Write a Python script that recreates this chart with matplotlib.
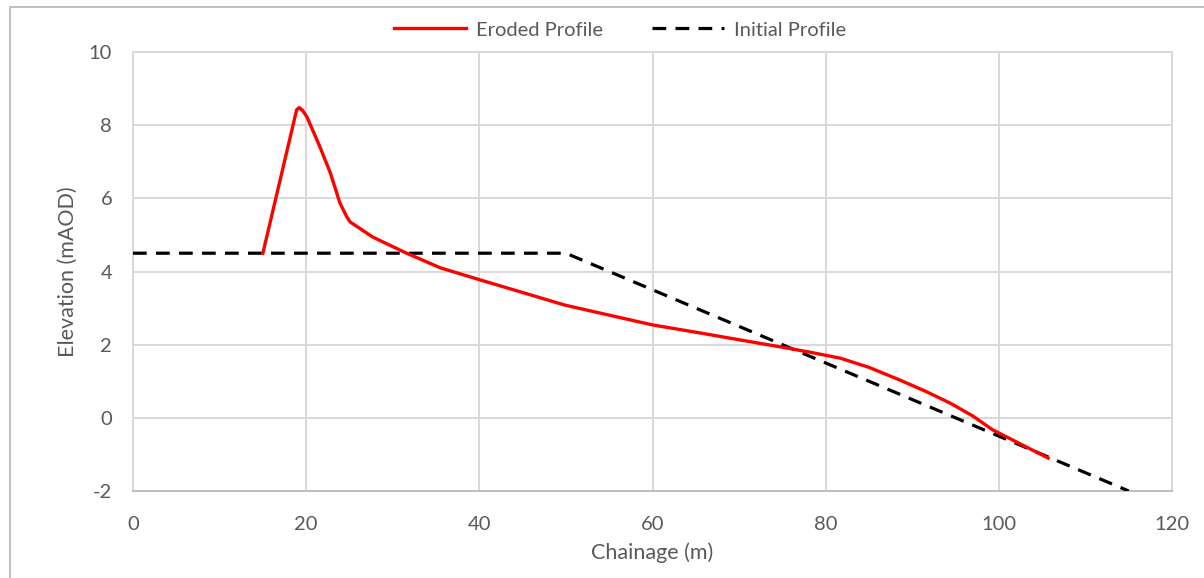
import matplotlib.pyplot as plt
from matplotlib.lines import Line2D

# eroded profile
eroded_x = [15, 18.9, 19.2, 19.6, 20.1, 21.6, 22.8, 23.9, 24.7, 25.1, 27.7, 31.6, 35.5, 40.1,
            49.9, 60, 65.5, 70.1, 75.5, 78.5, 81.7, 85, 88.6, 91.5, 94.4, 97, 99.3, 105.7]
eroded_y = [4.5, 8.42, 8.48, 8.4, 8.22, 7.4, 6.69, 5.87, 5.49, 5.35, 4.94, 4.5, 4.1, 3.77,
            3.08, 2.54, 2.32, 2.13, 1.91, 1.78, 1.63, 1.38, 1.03, 0.73, 0.40, 0.05, -0.33, -1.10]

# initial profile
initial_x = [0, 50, 115]
initial_y = [4.5, 4.5, -2]

x_ticks = [0, 20, 40, 60, 80, 100, 120]
y_ticks = [-2, 0, 2, 4, 6, 8, 10]

plt.rcParams['font.family'] = ['Lato', 'DejaVu Sans']
plt.rcParams['axes.unicode_minus'] = False
text_col = '#595959'
grid_col = '#d9d9d9'
dash = (0, (4.3, 2.9))

fig = plt.figure(figsize=(12.04, 5.78), dpi=100)
ax = fig.add_axes([133 / 1204, 1 - 491 / 578, (1172 - 133) / 1204, (491 - 52) / 578])

ax.plot(initial_x, initial_y, color='black', lw=2.3, ls=dash,
        label='Initial Profile', zorder=3)
ax.plot(eroded_x, eroded_y, color='#ff0000', lw=2.4, label='Eroded Profile',
        zorder=4, solid_joinstyle='round')

ax.set_xlim(0, 120)
ax.set_ylim(-2, 10)
ax.set_xticks(x_ticks)
ax.set_yticks(y_ticks)
ax.grid(True, color=grid_col, lw=1.4)
ax.set_axisbelow(True)
ax.tick_params(length=0, labelsize=14.5, colors=text_col)
ax.tick_params(axis='x', pad=18)
ax.tick_params(axis='y', pad=15)
for s in ['left', 'right', 'top']:
    ax.spines[s].set_color(grid_col)
    ax.spines[s].set_linewidth(1.4)
ax.spines['bottom'].set_color('#bfbfbf')
ax.spines['bottom'].set_linewidth(1.4)

ax.set_xlabel('Chainage (m)', fontsize=15.5, color=text_col, labelpad=7)
ax.set_ylabel('Elevation (mAOD)', fontsize=15.5, color=text_col, labelpad=8)

handles = [Line2D([], [], color='#ff0000', lw=2.4),
           Line2D([], [], color='black', lw=2.3, ls=dash)]
fig.legend(handles, ['Eroded Profile', 'Initial Profile'], loc='center',
           bbox_to_anchor=(0.515, 1 - 30 / 578), ncol=2, frameon=False,
           fontsize=14.5, labelcolor=text_col, handlelength=3.6,
           columnspacing=2.4, handletextpad=0.5)

# outer chart border
fig.add_artist(Line2D([10 / 1204, 1], [1 - 7 / 578] * 2, color='#bfbfbf', lw=1.4))
fig.add_artist(Line2D([10 / 1204] * 2, [0, 1 - 7 / 578], color='#bfbfbf', lw=1.4))

fig.savefig('out.png', dpi=100)
